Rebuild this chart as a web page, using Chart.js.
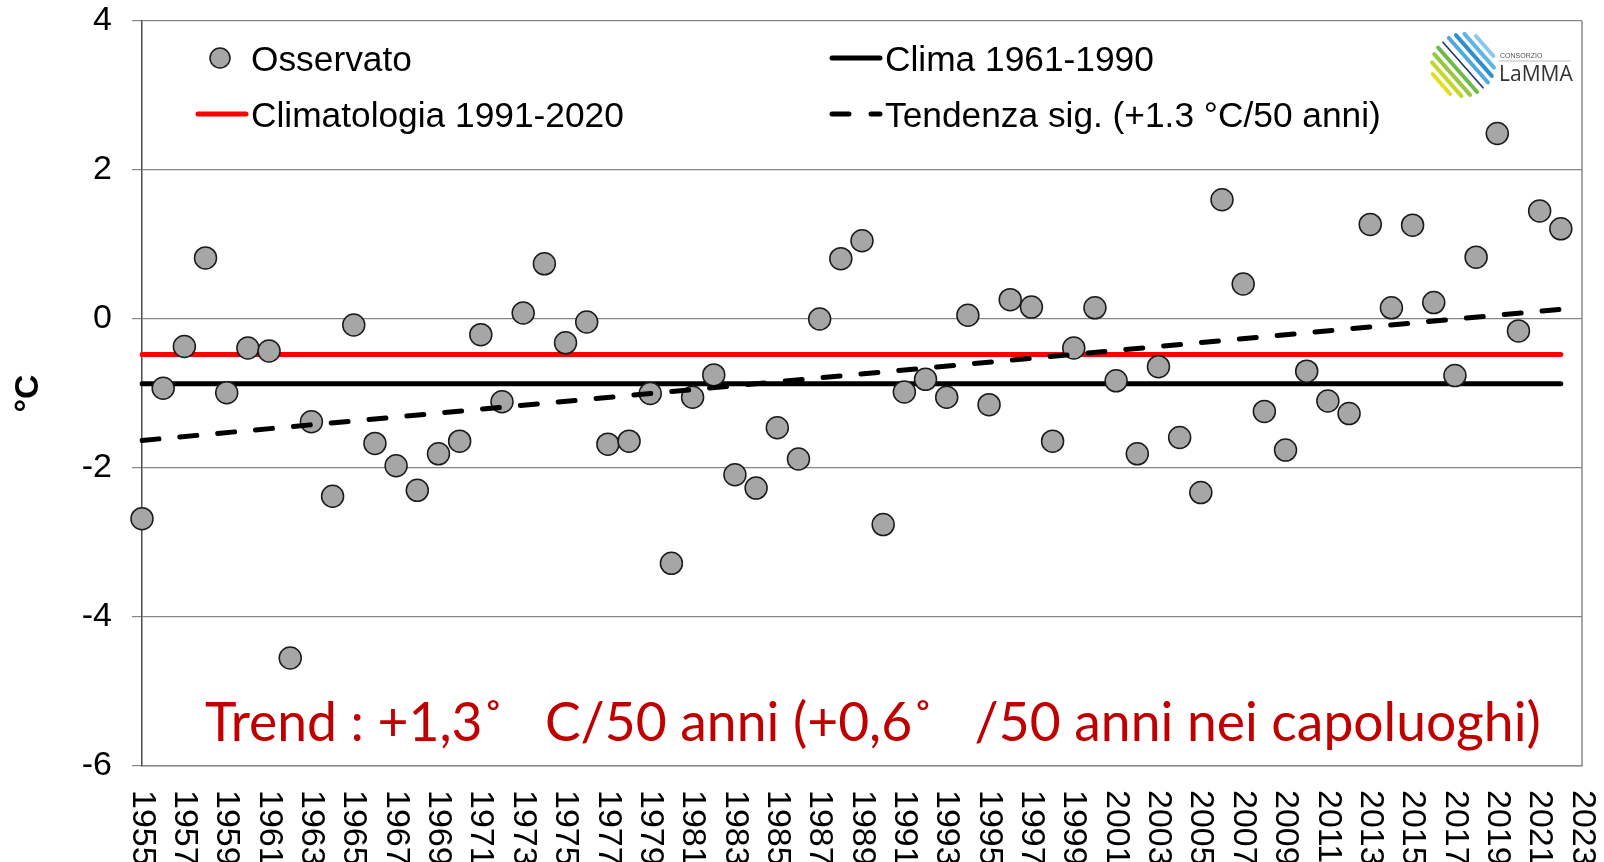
<!DOCTYPE html>
<html>
<head>
<meta charset="utf-8">
<script src="https://cdn.jsdelivr.net/npm/chart.js@4.4.1/dist/chart.umd.min.js"></script>
<style>
    html, body { margin: 0; padding: 0; background: #fff; }
    #wrap { width: 1604px; height: 862px; }
</style>
</head>
<body>
<div id="wrap"><canvas id="grafico" width="1604" height="862"></canvas></div>
<script>
// === Dati ===
const anni = [
    "1955","1956","1957","1958","1959","1960","1961","1962","1963","1964",
    "1965","1966","1967","1968","1969","1970","1971","1972","1973","1974",
    "1975","1976","1977","1978","1979","1980","1981","1982","1983","1984",
    "1985","1986","1987","1988","1989","1990","1991","1992","1993","1994",
    "1995","1996","1997","1998","1999","2000","2001","2002","2003","2004",
    "2005","2006","2007","2008","2009","2010","2011","2012","2013","2014",
    "2015","2016","2017","2018","2019","2020","2021","2022","2023"
];

// anomalie osservate 1955-2022 (°C)
const osservato = [
    -2.68, -0.93, -0.37,  0.82, -0.99, -0.39, -0.43, -4.55, -1.38, -2.38,
    -0.08, -1.67, -1.97, -2.30, -1.81, -1.64, -0.21, -1.11,  0.08,  0.74,
    -0.32, -0.04, -1.68, -1.64, -1.00, -3.28, -1.05, -0.75, -2.09, -2.27,
    -1.46, -1.88,  0.00,  0.81,  1.05, -2.76, -0.98, -0.81, -1.05,  0.05,
    -1.15,  0.26,  0.16, -1.64, -0.39,  0.15, -0.83, -1.81, -0.64, -1.59,
    -2.33,  1.60,  0.47, -1.24, -1.76, -0.70, -1.10, -1.27,  1.27,  0.15,
     1.26,  0.22, -0.76,  0.83,  2.49, -0.16,  1.45,  1.21
];

// linee orizzontali e tendenza: [valore 1955, valore 2022]
const estremi = ["1955", "2022"];
const clima6190 = [-0.87, -0.87];
const clima9120 = [-0.475, -0.475];
const tendenza = [-1.63, 0.13];

const yTicks = [-6, -4, -2, 0, 2, 4];

const FONT = "'Liberation Sans', Arial, sans-serif";
const nota = "Trend : +1,3\u02DA   C/50 anni (+0,6\u02DA   /50 anni nei capoluoghi)";

const segmento = vals => estremi.map((a, i) => ({ x: a, y: vals[i] }));

// === Plugin: bordo destro, etichette anni ruotate, legenda, nota, logo ===
const decorazioni = {
    id: "decorazioni",
    beforeDatasetsDraw(chart) {
        const { ctx, chartArea: ca } = chart;
        ctx.save();
        ctx.strokeStyle = "#8a8a8a";
        ctx.lineWidth = 1.5;
        ctx.beginPath();
        ctx.moveTo(ca.right, ca.top);
        ctx.lineTo(ca.right, ca.bottom);
        ctx.stroke();
        ctx.restore();
    },
    afterDraw(chart) {
        const { ctx } = chart;
        const xs = chart.scales.x;

        // etichette asse x (ruotate in senso orario)
        ctx.save();
        ctx.font = "34px " + FONT;
        ctx.fillStyle = "#000";
        ctx.textAlign = "left";
        ctx.textBaseline = "middle";
        anni.forEach((a, i) => {
            if (i % 2) return;
            ctx.save();
            ctx.translate(xs.getPixelForValue(i), 790);
            ctx.rotate(Math.PI / 2);
            ctx.fillText(a, 0, 0);
            ctx.restore();
        });
        ctx.restore();

        // legenda
        const ds = chart.data.datasets;
        const voci = [
            { d: ds[0], x: 195, y: 58 },
            { d: ds[2], x: 195, y: 114 },
            { d: ds[1], x: 829, y: 58 },
            { d: ds[3], x: 829, y: 114 }
        ];
        ctx.save();
        ctx.font = "35.3px " + FONT;
        ctx.textBaseline = "middle";
        ctx.textAlign = "left";
        voci.forEach(v => {
            const d = v.d;
            if (d.showLine === false) {
                ctx.beginPath();
                ctx.arc(v.x + 25, v.y, d.pointRadius - 1, 0, Math.PI * 2);
                ctx.fillStyle = d.backgroundColor;
                ctx.fill();
                ctx.lineWidth = d.pointBorderWidth;
                ctx.strokeStyle = d.borderColor;
                ctx.stroke();
            } else {
                ctx.strokeStyle = d.borderColor;
                ctx.lineWidth = d.borderWidth;
                ctx.lineCap = "round";
                ctx.setLineDash(d.borderDash ? [17, 22] : []);
                ctx.beginPath();
                ctx.moveTo(v.x + 3, v.y);
                ctx.lineTo(v.x + 51, v.y);
                ctx.stroke();
                ctx.setLineDash([]);
            }
            ctx.fillStyle = "#000";
            ctx.fillText(d.label, v.x + 56, v.y + 3);
        });
        ctx.restore();

        // nota in rosso
        ctx.save();
        let size = 58;
        ctx.font = size + "px Lato, 'Open Sans', sans-serif";
        size = size * 1335 / ctx.measureText(nota).width;
        ctx.font = size.toFixed(1) + "px Lato, 'Open Sans', sans-serif";
        ctx.fillStyle = "#C00000";
        ctx.textBaseline = "alphabetic";
        ctx.fillText(nota, 205, 741);
        ctx.restore();

        // logo LaMMA
        ctx.save();
        const cx = 1463, cy = 65, R = 32;
        const colori = ["#E4DF1C", "#C3D82A", "#96C93D", "#6DBA48", "#1E3470", "#4FA9DE", "#2E8FD0", "#5DB6E6", "#86CBEE"];
        const ux = Math.cos(0.85), uy = Math.sin(0.85);   // direzione delle strisce
        const px = uy, py = -ux;                          // perpendicolare
        colori.forEach((c, i) => {
            const t = (i - 4) * 7.2;
            const half = Math.sqrt(Math.max(R * R - t * t, 0)) * 0.95;
            const mx = cx + px * t, my = cy + py * t;
            ctx.strokeStyle = c;
            ctx.lineWidth = i === 4 ? 1.6 : 4;
            ctx.lineCap = "round";
            ctx.beginPath();
            ctx.moveTo(mx - ux * half, my - uy * half);
            ctx.lineTo(mx + ux * half, my + uy * half);
            ctx.stroke();
        });
        ctx.fillStyle = "#555";
        ctx.font = "7px " + FONT;
        ctx.fillText("CONSORZIO", 1500, 58);
        ctx.strokeStyle = "#aaa";
        ctx.lineWidth = 0.8;
        ctx.beginPath();
        ctx.moveTo(1499, 61);
        ctx.lineTo(1570, 61);
        ctx.stroke();
        ctx.fillStyle = "#333";
        ctx.font = "21px 'Open Sans', sans-serif";
        ctx.fillText("LaMMA", 1499, 81);
        ctx.restore();
    }
};

// === Grafico ===
new Chart(document.getElementById("grafico"), {
    type: "line",
    data: {
        labels: anni,
        datasets: [
            {
                label: "Osservato",
                data: osservato,
                showLine: false,
                pointRadius: 11,
                pointHoverRadius: 11,
                pointBorderWidth: 1.5,
                backgroundColor: "#A6A6A6",
                borderColor: "#1a1a1a",
                clip: false,
                order: 1
            },
            {
                label: "Clima 1961-1990",
                data: segmento(clima6190),
                borderColor: "#000",
                borderWidth: 5,
                borderCapStyle: "round",
                pointRadius: 0,
                order: 2
            },
            {
                label: "Climatologia 1991-2020",
                data: segmento(clima9120),
                borderColor: "#FF0000",
                borderWidth: 5,
                borderCapStyle: "round",
                pointRadius: 0,
                order: 2
            },
            {
                label: "Tendenza sig. (+1.3 °C/50 anni)",
                data: segmento(tendenza),
                borderColor: "#000",
                borderWidth: 5,
                borderDash: [17, 21],
                borderCapStyle: "round",
                pointRadius: 0,
                order: 0
            }
        ]
    },
    options: {
        responsive: false,
        animation: false,
        devicePixelRatio: 1,
        layout: { padding: { left: 0, top: 0, right: 22, bottom: 0 } },
        plugins: {
            legend: { display: false },
            tooltip: { enabled: false }
        },
        scales: {
            x: {
                type: "category",
                offset: false,
                grid: { display: false },
                border: { display: true, color: "#8a8a8a", width: 1.5 },
                ticks: { display: false },
                afterFit: s => { s.height = 96; }
            },
            y: {
                min: -6,
                max: 4,
                afterBuildTicks: s => { s.ticks = yTicks.map(v => ({ value: v })); },
                ticks: {
                    color: "#000",
                    font: { family: FONT, size: 34 },
                    padding: 20
                },
                grid: {
                    color: "#868686",
                    lineWidth: 1.2,
                    tickLength: 10
                },
                border: { color: "#4d4d4d", width: 1.5 },
                title: {
                    display: true,
                    text: "°C",
                    color: "#000",
                    font: { family: FONT, size: 34, weight: "bold" },
                    padding: { top: 8, bottom: 0 }
                },
                afterFit: s => {
                    s.width = 142;
                    s.paddingTop = 21;
                    s.paddingBottom = 0;
                }
            }
        }
    },
    plugins: [decorazioni]
});
</script>
</body>
</html>
